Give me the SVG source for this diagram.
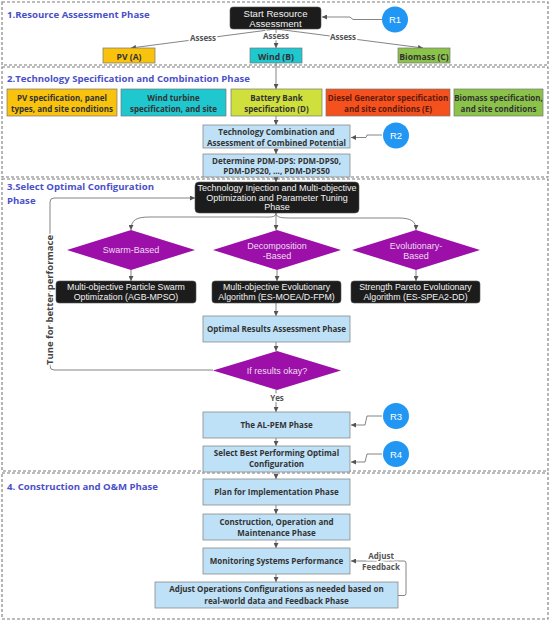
<svg xmlns="http://www.w3.org/2000/svg" width="550" height="623" viewBox="0 0 550 623">
<defs>
<marker id="ah" viewBox="0 0 6 6" refX="6" refY="3" markerWidth="5" markerHeight="5" orient="auto" markerUnits="userSpaceOnUse">
<path d="M0,0 L6,3 L0,6 z" fill="#555"/>
</marker>
<style>
.phase{fill:none;stroke:#7a7a7a;stroke-width:1.1;stroke-dasharray:3 2}
.ptitle{font-family:"Open Sans","Liberation Sans",sans-serif;font-weight:bold;font-size:9.6px;fill:#4a50c8}
.blk{fill:#1c1c1c;stroke:#555;stroke-width:0.6}
.bt{font-family:"Liberation Sans",Arial,sans-serif;font-size:9px;fill:#f2f2f2;text-anchor:middle}
.blue{fill:#bfe1f7;stroke:#8a8a8a;stroke-width:0.8}
.ct{font-family:"Open Sans","Liberation Sans",sans-serif;font-weight:bold;font-size:8px;fill:#333;text-anchor:middle}
.col{stroke:#777;stroke-width:0.7}
.dia{fill:#9c0fa9}
.dt{font-family:"Liberation Sans",Arial,sans-serif;font-size:9px;fill:#eeddee;text-anchor:middle}
.rc{fill:#2196f3}
.rt{font-family:"Liberation Sans",Arial,sans-serif;font-size:9.5px;fill:#fff;text-anchor:middle}
.ln{fill:none;stroke:#666;stroke-width:0.8}
.lbl{font-family:"Open Sans","Liberation Sans",sans-serif;font-weight:bold;font-size:8px;fill:#555;text-anchor:middle;paint-order:stroke;stroke:#fff;stroke-width:3px}
</style>
</defs>
<rect width="550" height="623" fill="#fff"/>

<g id="phases">
<rect class="phase" x="2" y="2" width="546" height="63"/>
<rect class="phase" x="2" y="67" width="546" height="110"/>
<rect class="phase" x="2" y="179" width="546" height="292"/>
<rect class="phase" x="2" y="473" width="546" height="146"/>
<text class="ptitle" x="7" y="18">1.Resource Assessment Phase</text>
<text class="ptitle" x="7" y="82">2.Technology Specification and Combination Phase</text>
<text class="ptitle" x="7" y="190">3.Select Optimal Configuration</text>
<text class="ptitle" x="7" y="204">Phase</text>
<text class="ptitle" x="7" y="490">4. Construction and O&amp;M Phase</text>
</g>

<g id="connectors">
<path class="ln" d="M276,29 L131,48" marker-end="url(#ah)"/>
<path class="ln" d="M276,29 V48" marker-end="url(#ah)"/>
<path class="ln" d="M276,29 L423,48" marker-end="url(#ah)"/>
<path class="ln" d="M382,19.5 H353 L350,17 H322" marker-end="url(#ah)"/>
<path class="ln" d="M276,63 V89" marker-end="url(#ah)"/>
<path class="ln" d="M276,116 V125" marker-end="url(#ah)"/>
<path class="ln" d="M382,135 H367 L366,137.5 H351" marker-end="url(#ah)"/>
<path class="ln" d="M276,148 V154" marker-end="url(#ah)"/>
<path class="ln" d="M276,177 V182" marker-end="url(#ah)"/>
<path class="ln" d="M276,213 C276,218 270,217 258,217 L150,217 C136,217 131,220 131,230" marker-end="url(#ah)"/>
<path class="ln" d="M276,213 V230" marker-end="url(#ah)"/>
<path class="ln" d="M276,213 C276,218 282,218 294,218 L398,218 C411,218 416,221 416,230" marker-end="url(#ah)"/>
<path class="ln" d="M131,270 V281" marker-end="url(#ah)"/>
<path class="ln" d="M277,270 V281" marker-end="url(#ah)"/>
<path class="ln" d="M416,270 V281" marker-end="url(#ah)"/>
<path class="ln" d="M276,303 V316" marker-end="url(#ah)"/>
<path class="ln" d="M276,342 V351" marker-end="url(#ah)"/>
<path class="ln" d="M213,370 H54 Q50,370 50,366 V202 Q50,198 54,198 H195" marker-end="url(#ah)"/>
<path class="ln" d="M276,390 V412" marker-end="url(#ah)"/>
<path class="ln" d="M382,416 H367 L365,425 H351" marker-end="url(#ah)"/>
<path class="ln" d="M276,438 V446" marker-end="url(#ah)"/>
<path class="ln" d="M382,454 H367 L365,462 H351" marker-end="url(#ah)"/>
<path class="ln" d="M276,472 V479" marker-end="url(#ah)"/>
<path class="ln" d="M276,505 V514" marker-end="url(#ah)"/>
<path class="ln" d="M276,540 V548" marker-end="url(#ah)"/>
<path class="ln" d="M276,574 V582" marker-end="url(#ah)"/>
<path class="ln" d="M398,595.5 H404 Q406,595.5 406,593.5 V563 Q406,561 404,561 H351" marker-end="url(#ah)"/>
<text class="lbl" x="203" y="41">Assess</text>
<text class="lbl" x="276" y="39">Assess</text>
<text class="lbl" x="343" y="40">Assess</text>
<text class="lbl" x="277" y="401">Yes</text>
<text class="lbl" x="381" y="559">Adjust</text>
<text class="lbl" x="381" y="570">Feedback</text>
<text class="lbl" transform="translate(52.5,300) rotate(-90)" x="0" y="0" style="font-size:9.5px;fill:#444">Tune for better performace</text>
</g>

<g id="n-start">
<rect class="blk" x="230" y="7" width="91" height="22" rx="3"/>
<text class="bt" x="275.5" y="16.8" style="font-size:9.6px">Start Resource</text>
<text class="bt" x="275.5" y="26.6" style="font-size:9.6px">Assessment</text>
</g>
<g id="n-r1"><circle class="rc" cx="395" cy="19.5" r="13"/><text class="rt" x="395" y="23">R1</text></g>
<g id="n-pv"><rect class="col" x="103" y="48" width="52" height="15" fill="#f9c20c"/><text class="ct" x="129" y="59.5" style="font-size:8.6px">PV (A)</text></g>
<g id="n-wind"><rect class="col" x="250" y="48" width="52" height="15" fill="#1fc7cf"/><text class="ct" x="276" y="59.5" style="font-size:8.6px">Wind (B)</text></g>
<g id="n-biomass"><rect class="col" x="398" y="48" width="52" height="15" fill="#8bc34a"/><text class="ct" x="424" y="59.5" style="font-size:8.6px">Biomass (C)</text></g>

<g id="n-pvspec"><rect class="col" x="7" y="89" width="110" height="27" fill="#f9c20c"/>
<text class="ct" x="62" y="101">PV specification, panel</text><text class="ct" x="62" y="111.5">types, and site conditions</text></g>
<g id="n-windspec"><rect class="col" x="121" y="89" width="105" height="27" fill="#1fc7cf"/>
<text class="ct" x="173.5" y="101">Wind turbine</text><text class="ct" x="173.5" y="111.5">specification, and site</text></g>
<g id="n-battery"><rect class="col" x="231" y="89" width="91" height="27" fill="#cfdf3c"/>
<text class="ct" x="276.5" y="101">Battery Bank</text><text class="ct" x="276.5" y="111.5">specification (D)</text></g>
<g id="n-diesel"><rect class="col" x="326" y="89" width="124" height="27" fill="#f4511e"/>
<text class="ct" x="388" y="101" style="fill:#5e1a0c">Diesel Generator specification</text><text class="ct" x="388" y="111.5" style="fill:#5e1a0c">and site conditions (E)</text></g>
<g id="n-biospec"><rect class="col" x="454" y="89" width="89" height="27" fill="#8bc34a"/>
<text class="ct" x="498.5" y="101">Biomass specification,</text><text class="ct" x="498.5" y="111.5">and site conditions</text></g>

<g id="n-combination"><rect class="blue" x="203" y="125" width="147" height="23"/>
<text class="ct" x="276.5" y="134.5">Technology Combination and</text><text class="ct" x="276.5" y="145.5">Assessment of Combined Potential</text></g>
<g id="n-r2"><circle class="rc" cx="396" cy="135.5" r="13"/><text class="rt" x="396" y="139">R2</text></g>
<g id="n-determine"><rect class="blue" x="203" y="154" width="147" height="23"/>
<text class="ct" x="276.5" y="163.8">Determine PDM-DPS: PDM-DPS0,</text><text class="ct" x="276.5" y="174">PDM-DPS20, …, PDM-DPS50</text></g>

<g id="n-injection"><rect class="blk" x="195" y="182" width="164" height="31" rx="4"/>
<text class="bt" x="277" y="191">Technology Injection and Multi-objective</text>
<text class="bt" x="277" y="200.6">Optimization and Parameter Tuning</text>
<text class="bt" x="277" y="210.2">Phase</text></g>

<g id="n-swarm"><polygon class="dia" points="131,230 195,250 131,270 67,250"/><text class="dt" x="131" y="253.2">Swarm-Based</text></g>
<g id="n-decomp"><polygon class="dia" points="277,230 341,250 277,270 213,250"/><text class="dt" x="277" y="248.7">Decomposition</text><text class="dt" x="277" y="258.9">-Based</text></g>
<g id="n-evo"><polygon class="dia" points="416,230 480,250 416,270 352,250"/><text class="dt" x="416" y="248.7">Evolutionary-</text><text class="dt" x="416" y="258.9">Based</text></g>

<g id="n-mpso"><rect class="blk" x="56" y="281" width="140" height="22" rx="3"/>
<text class="bt" x="126" y="290" style="font-size:8.8px">Multi-objective Particle Swarm</text><text class="bt" x="126" y="300" style="font-size:8.8px">Optimization (AGB-MPSO)</text></g>
<g id="n-moea"><rect class="blk" x="212" y="281" width="129" height="22" rx="3"/>
<text class="bt" x="276.5" y="290" style="font-size:8.8px">Multi-objective Evolutionary</text><text class="bt" x="276.5" y="300" style="font-size:8.8px">Algorithm (ES-MOEA/D-FPM)</text></g>
<g id="n-spea"><rect class="blk" x="351" y="281" width="129" height="22" rx="3"/>
<text class="bt" x="415.5" y="290" style="font-size:8.8px">Strength Pareto Evolutionary</text><text class="bt" x="415.5" y="300" style="font-size:8.8px">Algorithm (ES-SPEA2-DD)</text></g>

<g id="n-results"><rect class="blue" x="203" y="316" width="147" height="26"/><text class="ct" x="276.5" y="331.8">Optimal Results Assessment Phase</text></g>
<g id="n-okay"><polygon class="dia" points="277,351 341,370.5 277,390 213,370.5"/><text class="dt" x="277" y="373.7">If results okay?</text></g>

<g id="n-alpem"><rect class="blue" x="203" y="412" width="147" height="26"/><text class="ct" x="276.5" y="428">The AL-PEM Phase</text></g>
<g id="n-r3"><circle class="rc" cx="396" cy="416" r="13"/><text class="rt" x="396" y="419.5">R3</text></g>
<g id="n-select"><rect class="blue" x="203" y="446" width="147" height="26"/>
<text class="ct" x="276.5" y="456.3">Select Best Performing Optimal</text><text class="ct" x="276.5" y="467.3">Configuration</text></g>
<g id="n-r4"><circle class="rc" cx="396" cy="454" r="13"/><text class="rt" x="396" y="457.5">R4</text></g>

<g id="n-plan"><rect class="blue" x="203" y="479" width="147" height="26"/><text class="ct" x="276.5" y="495">Plan for Implementation Phase</text></g>
<g id="n-construction"><rect class="blue" x="203" y="514" width="147" height="26"/>
<text class="ct" x="276.5" y="524.8">Construction, Operation and</text><text class="ct" x="276.5" y="535.8">Maintenance Phase</text></g>
<g id="n-monitor"><rect class="blue" x="203" y="548" width="147" height="26"/><text class="ct" x="276.5" y="564">Monitoring Systems Performance</text></g>
<g id="n-adjust"><rect class="blue" x="155" y="582" width="243" height="26"/>
<text class="ct" x="276.5" y="592.3">Adjust Operations Configurations as needed based on</text><text class="ct" x="276.5" y="603.8">real-world data and Feedback Phase</text></g>
</svg>
